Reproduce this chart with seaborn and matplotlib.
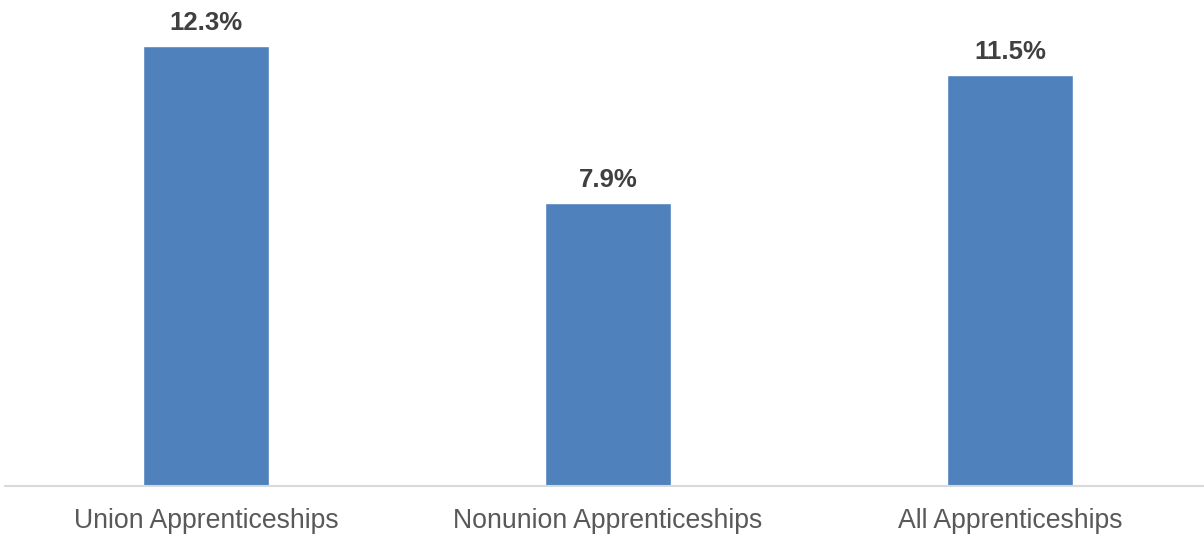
import matplotlib
matplotlib.use("Agg")
import matplotlib.pyplot as plt
import seaborn as sns
import pandas as pd

categories = ["Union Apprenticeships", "Nonunion Apprenticeships", "All Apprenticeships"]
values = [12.3, 7.9, 11.5]
value_labels = ["12.3%", "7.9%", "11.5%"]

sns.set_theme(style="white")
plt.rcParams['font.family'] = ['Liberation Sans', 'DejaVu Sans']

df = pd.DataFrame({"category": categories, "value": values})

fig = plt.figure(figsize=(12.04, 5.35), dpi=100)
ax = fig.add_axes([5 / 1204, 49 / 535, 1206 / 1204, 486 / 535])

sns.barplot(data=df, x="category", y="value", color="#4F81BD", saturation=1,
            width=0.313, ax=ax)

for i, (v, lab) in enumerate(zip(values, value_labels)):
    ax.annotate(lab, (i, v), xytext=(0, 11), textcoords="offset pixels",
                ha="center", va="bottom", fontsize=18.5, fontweight="bold",
                color="#404040")

ax.set_xlim(-0.5, 2.5)
ax.set_ylim(0, 13.59)
ax.set_xlabel("")
ax.set_ylabel("")
ax.set_yticks([])
ax.tick_params(axis="x", length=0, pad=16, labelsize=19.2, labelcolor="#595959")
for side in ["top", "right", "left"]:
    ax.spines[side].set_visible(False)
ax.spines["bottom"].set_color("#D9D9D9")
ax.spines["bottom"].set_linewidth(1.5)

fig.savefig("out.png", dpi=100)
